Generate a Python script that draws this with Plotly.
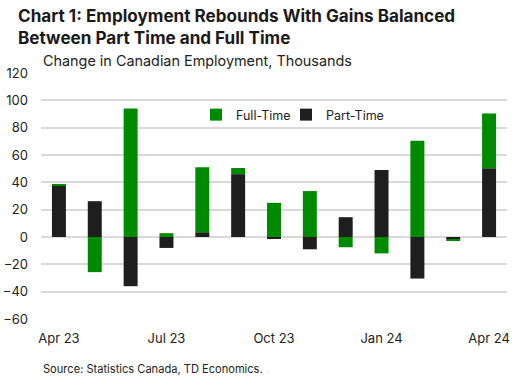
import plotly.graph_objects as go

months = ["Apr 23", "May 23", "Jun 23", "Jul 23", "Aug 23", "Sep 23", "Oct 23",
          "Nov 23", "Dec 23", "Jan 24", "Feb 24", "Mar 24", "Apr 24"]
part_time = [37.5, 26.2, -36.0, -8.0, 3.5, 46.0, -0.8, -9.0, 14.5, 49.0, -30.4, -1.6, 50.3]
full_time = [1.0, -25.7, 94.0, 2.8, 47.6, 4.5, 25.0, 33.6, -7.5, -12.0, 70.4, -0.8, 40.1]
tick_labels = ["Apr 23", "Jul 23", "Oct 23", "Jan 24", "Apr 24"]

GREEN = "#008A00"
BLACK = "#1E1E1E"
FONT = "Inter"

fig = go.Figure()
fig.add_trace(go.Bar(x=months, y=part_time, name="Part-Time", marker_color=BLACK,
                     marker_line_width=0, legend="legend2"))
fig.add_trace(go.Bar(x=months, y=full_time, name="Full-Time", marker_color=GREEN,
                     marker_line_width=0, legend="legend"))

legend_y = (319 - 115) / 246
legend_style = dict(orientation="h", y=legend_y, xanchor="left", yanchor="middle",
                    bgcolor="rgba(0,0,0,0)", font=dict(size=12.5, color="#222222"))

fig.update_layout(
    width=516, height=385,
    barmode="relative", bargap=0.61,
    plot_bgcolor="white", paper_bgcolor="white",
    margin=dict(l=41, r=9, t=73, b=66, autoexpand=False),
    font=dict(family=FONT, color="#222222", size=12),
    showlegend=True,
    legend=dict(x=(196 - 41) / 466, **legend_style),
    legend2=dict(x=(286 - 41) / 466, **legend_style),
    hovermode=False,
    annotations=[
        dict(text="<b>Chart 1: Employment Rebounds With Gains Balanced<br>Between Part Time and Full Time</b>",
             xref="paper", yref="paper", x=-25/466, y=1 + 70/246, xanchor="left", yanchor="top",
             align="left", showarrow=False, font=dict(size=17.1, color="#1a1a1a", family=FONT)),
        dict(text="Change in Canadian Employment, Thousands",
             xref="paper", yref="paper", x=0, y=1 + 1/246, xanchor="left", yanchor="bottom",
             align="left", showarrow=False, font=dict(size=14.4, color="#222222", family=FONT)),
        dict(text="Source: Statistics Canada, TD Economics.",
             xref="paper", yref="paper", x=0, y=-50/246, xanchor="left", yanchor="middle",
             align="left", showarrow=False, font=dict(size=11.1, color="#222222", family=FONT)),
    ],
)
fig.update_xaxes(
    type="category", categoryorder="array", categoryarray=months,
    tickmode="array", tickvals=tick_labels, ticktext=tick_labels,
    showgrid=False, showline=False, ticks="", ticklabelstandoff=10,
    tickfont=dict(size=13, color="#222222"), automargin=False,
)
fig.update_yaxes(
    range=[-60, 120], tickmode="linear", tick0=-60, dtick=20,
    showgrid=True, gridcolor="#D9D9D9", gridwidth=1.5,
    zeroline=True, zerolinecolor="#D9D9D9", zerolinewidth=1.5,
    showline=False, ticks="", ticklabelstandoff=12,
    tickfont=dict(size=13, color="#222222"), automargin=False,
)

fig.write_html("out.html", config={"displayModeBar": False},
               post_script="document.body.style.margin='0';document.body.style.overflow='hidden';")
